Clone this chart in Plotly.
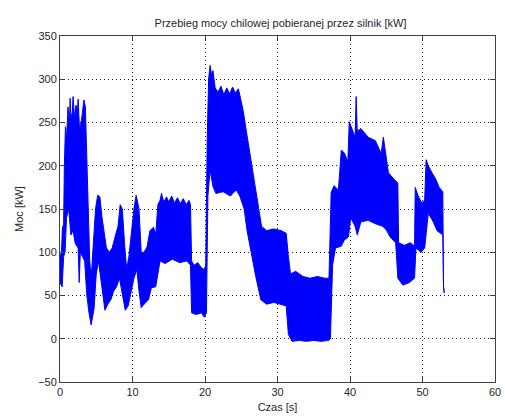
import plotly.graph_objects as go

# Upper envelope of the instantaneous power signal (time [s], power [kW])
t_upper = [0.0, 0.2, 0.35, 0.45, 0.6, 0.75, 0.9, 1.1, 1.3, 1.4, 1.5, 1.7, 1.8, 2.0, 2.2, 2.4, 2.5, 2.7, 3.0, 3.3,
           3.5, 3.7, 3.9, 4.1, 4.3, 4.6, 4.9, 5.2, 5.5, 5.8, 6.1, 6.4, 6.8, 7.2, 7.6, 8.0, 8.3, 8.6, 8.9, 9.2,
           9.5, 9.8, 10.2, 10.5, 10.9, 11.2, 11.6, 12.0, 12.4, 12.9, 13.2, 13.5, 13.8, 14.0, 14.3, 14.7, 15.0,
           15.4, 15.8, 16.2, 16.6, 17.0, 17.4, 17.8, 18.0, 18.15, 18.5, 19.0, 19.5, 19.9, 20.1, 20.3, 20.5, 20.7,
           20.9, 21.1, 21.4, 21.8, 22.2, 22.6, 23.0, 23.4, 23.8, 24.2, 24.6, 24.9, 25.3, 25.7, 26.0, 26.5, 27.0,
           27.4, 27.8, 28.5, 29.5, 30.5, 31.2, 31.5, 31.8, 32.5, 33.5, 34.5, 35.5, 36.5, 37.1, 37.4, 37.8, 38.4,
           38.8, 39.2, 39.7, 39.9, 40.2, 40.7, 40.85, 41.0, 41.5, 42.5, 43.5, 44.3, 44.6, 45.0, 45.3, 46.0, 46.6,
           46.7, 47.5, 48.3, 48.9, 49.0, 49.4, 49.9, 50.3, 50.5, 50.8, 51.3, 51.8, 52.3, 52.8, 52.9, 53.0]
p_upper = [95, 100, 130, 100, 200, 245, 230, 268, 250, 278, 255, 262, 280, 255, 270, 262, 277, 240, 255, 276,
           268, 215, 150, 90, 70, 110, 150, 166, 164, 140, 120, 105, 100, 105, 118, 130, 155, 150, 110, 80,
           95, 120, 150, 166, 150, 100, 100, 106, 125, 129, 120, 155, 160, 168, 158, 164, 158,
           165, 157, 163, 156, 162, 155, 160, 155, 90, 85, 88, 82, 80, 85, 230, 300, 316,
           305, 310, 290, 285, 292, 282, 290, 283, 291, 284, 289, 278, 262, 240, 224, 200, 170,
           148, 130, 125, 127, 125, 122, 95, 75, 78, 72, 70, 72, 70, 70, 169, 177, 172,
           218, 215, 205, 251, 245, 233, 280, 240, 243, 233, 229, 214, 233, 210, 192, 185, 180,
           111, 108, 111, 107, 175, 165, 157, 160, 207, 200, 192, 185, 175, 170, 60, 53]

# Lower envelope of the signal
t_lower = [0.0, 0.3, 0.5, 0.7, 0.9, 1.2, 1.5, 1.8, 2.1, 2.5, 2.65, 2.8, 3.1, 3.4, 3.7, 4.0, 4.3, 4.7, 5.0, 5.3,
           5.6, 5.9, 6.2, 6.6, 7.0, 7.4, 7.8, 8.2, 8.6, 9.0, 9.4, 9.8, 10.2, 10.6, 10.9, 11.2, 11.6, 12.2, 12.6,
           13.2, 13.5, 13.8, 14.5, 15.5, 16.5, 17.5, 18.0, 18.15, 18.8, 19.5, 19.9, 20.2, 20.4, 20.7, 21.1, 21.5,
           22.5, 23.5, 24.3, 24.8, 25.1, 25.4, 25.8, 26.3, 27.0, 27.7, 28.5, 29.5, 30.5, 31.2, 31.5, 32.0, 33.0,
           34.0, 35.0, 36.0, 37.0, 37.3, 37.6, 38.0, 38.8, 39.2, 39.8, 40.1, 40.7, 41.0, 41.5, 42.5, 43.5, 44.5,
           45.0, 45.5, 46.3, 46.6, 47.3, 48.2, 48.9, 49.1, 49.8, 50.3, 50.8, 51.5, 52.0, 52.5, 52.8, 52.9, 53.0]
p_lower = [65, 60, 95, 100, 140, 150, 120, 125, 110, 105, 65, 100, 95, 90, 50, 30, 16, 35, 75, 90,
           70, 50, 33, 40, 45, 55, 60, 70, 50, 33, 38, 55, 70, 80, 55, 36, 40, 45, 59,
           60, 75, 90, 87, 92, 88, 90, 85, 30, 28, 30, 25, 30, 165, 195, 176, 168,
           170, 165, 172, 165, 158, 150, 125, 103, 72, 45, 40, 42, 40, 38, 5, -3, -2,
           -3, -2, -3, -2, 0, 85, 105, 107, 114, 118, 140, 130, 120, 135, 137, 133, 130,
           126, 118, 111, 70, 62, 65, 70, 105, 100, 105, 145, 135, 125, 122, 120, 60, 53]

x_ticks = [0, 10, 20, 30, 40, 50, 60]
y_ticks = [-50, 0, 50, 100, 150, 200, 250, 300, 350]

fig = go.Figure()
fig.add_trace(go.Scatter(
    x=t_upper + t_lower[::-1],
    y=p_upper + p_lower[::-1],
    mode="lines",
    fill="toself",
    fillcolor="#0000ff",
    line=dict(color="#0000ff", width=1),
    hoverinfo="skip",
    showlegend=False,
))

font = dict(family="Liberation Sans, Arial, sans-serif", size=11, color="#262626")
axis_common = dict(
    showline=True, linecolor="#404040", linewidth=1, mirror="ticks",
    ticks="inside", ticklen=5, tickcolor="#404040",
    showgrid=True, gridcolor="#1a1a1a", griddash="1px,3px", gridwidth=1,
    zeroline=False, tickfont=font, ticklabeloverflow="allow",
)
fig.update_layout(
    width=505, height=419,
    margin=dict(l=60, r=4, t=36, b=37),
    paper_bgcolor="white", plot_bgcolor="white",
    font=font,
    title=dict(text="Przebieg mocy chilowej pobieranej przez silnik [kW]",
               x=0.5555, xanchor="center", y=0.945, yanchor="middle",
               font=dict(family="Liberation Sans, Arial, sans-serif", size=11, color="#262626")),
    xaxis=dict(range=[0, 60], tickvals=x_ticks,
               title=dict(text="Czas [s]", standoff=6, font=font), **axis_common),
    yaxis=dict(range=[-50, 350], tickvals=y_ticks,
               title=dict(text="Moc [kW]", standoff=12, font=font), **axis_common),
)
fig.write_html("out.html")
